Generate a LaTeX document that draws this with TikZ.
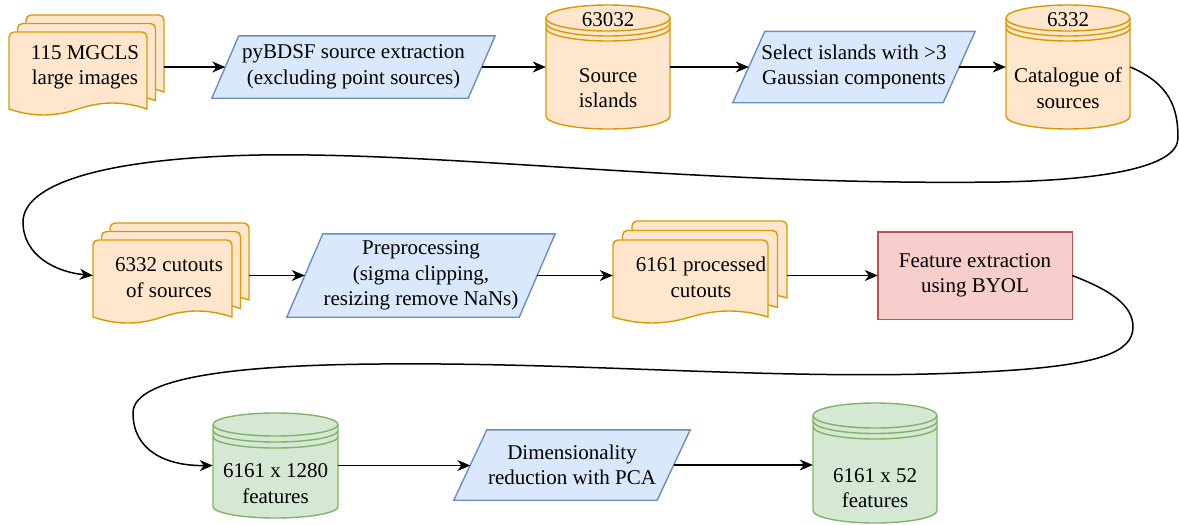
\documentclass[tikz,border=0pt]{standalone}
\usepackage{fontspec}
\setmainfont{Liberation Serif}
\usetikzlibrary{arrows.meta,backgrounds}
\definecolor{orfill}{HTML}{FFE6CC}
\definecolor{ordraw}{HTML}{D79B00}
\definecolor{blfill}{HTML}{DAE8FC}
\definecolor{bldraw}{HTML}{6C8EBF}
\definecolor{rdfill}{HTML}{F8CECC}
\definecolor{rddraw}{HTML}{B85450}
\definecolor{grfill}{HTML}{D5E8D4}
\definecolor{grdraw}{HTML}{82B366}
% half-ellipse segments (current point assumed at start)
\newcommand\lowarcto[4]{.. controls ({#1},{#3+0.5523*#4}) and ({(#1+#2)/2-0.5523*(#2-#1)/2},{#3+#4}) .. ({(#1+#2)/2},{#3+#4}) .. controls ({(#1+#2)/2+0.5523*(#2-#1)/2},{#3+#4}) and ({#2},{#3+0.5523*#4}) .. ({#2},{#3})}
\newcommand\uparcto[4]{.. controls ({#2},{#3-0.5523*#4}) and ({(#1+#2)/2+0.5523*(#2-#1)/2},{#3-#4}) .. ({(#1+#2)/2},{#3-#4}) .. controls ({(#1+#2)/2-0.5523*(#2-#1)/2},{#3-#4}) and ({#1},{#3-0.5523*#4}) .. ({#1},{#3})}
\newcommand\datastore[7]{%
  \draw[#7] ({#1},{#3+#5}) -- ({#1},{#4-#5}) \lowarcto{#1}{#2}{#4-#5}{#5} -- ({#2},{#3+#5}) \uparcto{#1}{#2}{#3+#5}{#5} -- cycle;
  \draw[#7,fill=none] ({#1},{#3+#5}) \lowarcto{#1}{#2}{#3+#5}{#5};
  \draw[#7,fill=none] ({#1},{#3+#5+#6}) \lowarcto{#1}{#2}{#3+#5+#6}{#5};
  \draw[#7,fill=none] ({#1},{#3+#5+2*#6}) \lowarcto{#1}{#2}{#3+#5+2*#6}{#5};}
\newcommand\onedoc[5]{%
  \draw[#5] ({#1},{#2+#4}) [rounded corners=5pt] -- ({#1},{#2}) -- ({#1+#3},{#2}) [sharp corners] -- ({#1+#3},{#2+#4}) .. controls ({#1+0.83*#3},{#2+#4-8}) and ({#1+0.67*#3},{#2+#4-8}) .. ({#1+0.5*#3},{#2+#4}) .. controls ({#1+0.33*#3},{#2+#4+8}) and ({#1+0.17*#3},{#2+#4+8}) .. ({#1},{#2+#4}) -- cycle;}
\newcommand\multidoc[6]{%
  \onedoc{#1+2*#5}{#2-2*#5}{#3}{#4}{#6}
  \onedoc{#1+#5}{#2-#5}{#3}{#4}{#6}
  \onedoc{#1}{#2}{#3}{#4}{#6}}
\newcommand\para[3]{%
  \draw[#3] ([xshift=#2pt]#1.north west) -- (#1.north east) -- ([xshift=-#2pt]#1.south east) -- (#1.south west) -- cycle;}
\tikzset{
  orangeshape/.style={draw=ordraw,fill=orfill,line width=1.4pt},
  blueshape/.style={draw=bldraw,fill=blfill,line width=1.4pt},
  redshape/.style={draw=rddraw,fill=rdfill,line width=1.4pt},
  greenshape/.style={draw=grdraw,fill=grfill,line width=1.4pt},
  box/.style={draw=none,inner sep=0pt},
  txt/.style={align=center,font=\fontsize{21}{25.5}\selectfont,inner sep=0pt,text=black},
  arr/.style={-{Stealth[length=13pt,width=11pt,inset=4pt]},line width=1.5pt,black},
}
\begin{document}
\begin{tikzpicture}[x=1pt,y=-1pt]
\useasboundingbox (0,0) rectangle (1179,525);
% ---- row 1
\node[box,minimum width=155pt,minimum height=100pt] (doc1) at (86.5,64) {};
\node[txt] (doc1t) at (85,67.5) {115 MGCLS\\large images};
\node[box,txt,minimum width=283pt,minimum height=62pt] (p1) at (353.5,67) {pyBDSF source extraction\\(excluding point sources)};
\node[box,minimum width=124pt,minimum height=124pt] (cyl1) at (608,67) {};
\node[txt] (cyl1a) at (608,20) {63032};
\node[txt] (cyl1b) at (608,88) {Source\\islands};
\node[box,txt,minimum width=242pt,minimum height=71pt] (p2) at (854,67) {Select islands with >3\\Gaussian components};
\node[box,minimum width=124pt,minimum height=124pt] (cyl2) at (1068,67) {};
\node[txt] (cyl2a) at (1068,20) {6332};
\node[txt] (cyl2b) at (1068,88) {Catalogue of\\sources};
% ---- row 2
\node[box,minimum width=156pt,minimum height=100pt] (cut) at (171,273) {};
\node[txt] (cutt) at (169,277.5) {6332 cutouts\\of sources};
\node[box,txt,minimum width=268pt,minimum height=83pt] (p3) at (421,275.5) {Preprocessing\\(sigma clipping,\\resizing remove NaNs)};
\node[box,minimum width=174pt,minimum height=102pt] (proc) at (700,272) {};
\node[txt] (proct) at (701,277.5) {6161 processed\\cutouts};
\node[box,txt,minimum width=194pt,minimum height=87pt] (rect) at (975,275.5) {Feature extraction\\using BYOL};
% ---- row 3
\node[box,minimum width=125pt,minimum height=105pt] (cyl3) at (275.5,465.5) {};
\node[txt] (cyl3t) at (275.5,483.5) {6161 x 1280\\features};
\node[box,txt,minimum width=236pt,minimum height=70pt] (p4) at (572,465) {Dimensionality\\reduction with PCA};
\node[box,minimum width=124pt,minimum height=120pt] (cyl4) at (875,463) {};
\node[txt] (cyl4t) at (875,488) {6161 x 52\\features};
% ---- shapes
\begin{scope}[on background layer]
\multidoc{9}{32}{138}{77}{8.5}{orangeshape}
\para{p1}{27}{blueshape}
\datastore{546}{670}{5}{129}{13}{5}{orangeshape}
\para{p2}{32}{blueshape}
\datastore{1006}{1130}{5}{129}{13}{5}{orangeshape}
\multidoc{93}{240}{139}{77}{8.5}{orangeshape}
\para{p3}{36}{blueshape}
\multidoc{613}{240}{155}{77}{9.5}{orangeshape}
\draw[redshape] (rect.north west) rectangle (rect.south east);
\datastore{213}{338}{413}{518}{11.5}{6}{greenshape}
\para{p4}{33}{blueshape}
\datastore{813}{937}{403}{523}{12.5}{5.5}{greenshape}
\end{scope}
% ---- connectors
\draw[arr] (doc1.east |- p1.west) -- ([xshift=13.5pt]p1.west);
\draw[arr] ([xshift=-13.5pt]p1.east) -- (cyl1.west);
\draw[arr] (cyl1.east) -- ([xshift=16pt]p2.west);
\draw[arr] ([xshift=-16pt]p2.east) -- (cyl2.west);
\draw[arr] (cyl2.east) .. controls (1170,84) and (1178,108) .. (1178,138) .. controls (1178,168) and (1100,180) .. (1000,182) .. controls (700,186) and (450,152) .. (260,155) .. controls (100,158) and (23,185) .. (23,222) .. controls (23,255) and (55,272) .. (cut.west |- p3.west);
\draw[arr] (cut.east |- p3.west) -- ([xshift=18pt]p3.west);
\draw[arr] ([xshift=-18pt]p3.east) -- (proc.west |- p3.east);
\draw[arr] (proc.east |- rect.west) -- (rect.west);
\draw[arr] (rect.east) .. controls (1110,290) and (1133,305) .. (1133,327) .. controls (1133,352) and (1100,365) .. (1000,371) .. controls (800,383) and (600,362) .. (380,364) .. controls (250,365) and (133,375) .. (133,413) .. controls (133,450) and (165,466) .. (cyl3.west);
\draw[arr] (cyl3.east) -- ([xshift=16.5pt]p4.west |- cyl3.east);
\draw[arr] ([xshift=-16.5pt]p4.east) -- (cyl4.west |- p4.east);
\end{tikzpicture}
\end{document}
